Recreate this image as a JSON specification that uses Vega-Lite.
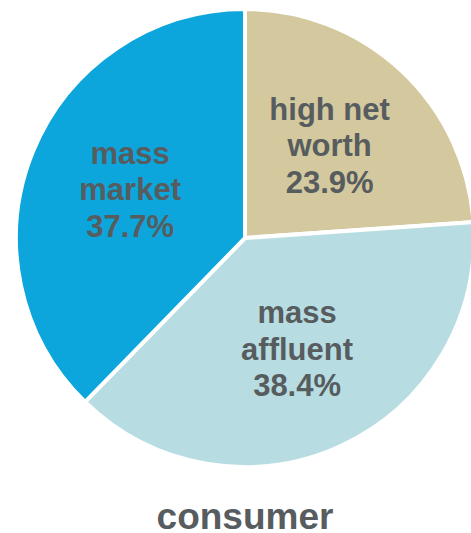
{
  "$schema": "https://vega.github.io/schema/vega-lite/v6.json",
  "width": 490,
  "height": 476,
  "autosize": "pad",
  "padding": 0,
  "background": "white",
  "data": {
    "values": [
      {"category": "high net worth", "share": 23.9, "label": "high net\nworth\n23.9%"},
      {"category": "mass affluent", "share": 38.4, "label": "mass\naffluent\n38.4%"},
      {"category": "mass market", "share": 37.7, "label": "mass\nmarket\n37.7%"}
    ]
  },
  "title": {
    "text": "consumer",
    "orient": "bottom",
    "anchor": "middle",
    "font": "Liberation Sans",
    "fontSize": 37,
    "fontWeight": "bold",
    "color": "#575C5F",
    "baseline": "alphabetic",
    "offset": 53
  },
  "view": {"stroke": null},
  "encoding": {
    "theta": {"field": "share", "type": "quantitative", "stack": true},
    "order": {"field": "category", "type": "nominal", "sort": "ascending"}
  },
  "layer": [
    {
      "mark": {"type": "arc", "outerRadius": 229, "stroke": "white", "strokeWidth": 4},
      "encoding": {
        "color": {
          "field": "category",
          "type": "nominal",
          "scale": {
            "domain": ["high net worth", "mass affluent", "mass market"],
            "range": ["#D4C89E", "#B7DDE2", "#0CA6DC"]
          },
          "legend": null
        }
      }
    },
    {
      "mark": {
        "type": "text",
        "radius": 124,
        "dy": -36.5,
        "font": "Liberation Sans",
        "fontSize": 31,
        "fontWeight": "bold",
        "lineBreak": "\n",
        "lineHeight": 36.5,
        "align": "center",
        "baseline": "middle",
        "color": "#575C5F"
      },
      "encoding": {
        "detail": {"field": "category", "type": "nominal"},
        "text": {"field": "label", "type": "nominal"}
      }
    }
  ]
}
